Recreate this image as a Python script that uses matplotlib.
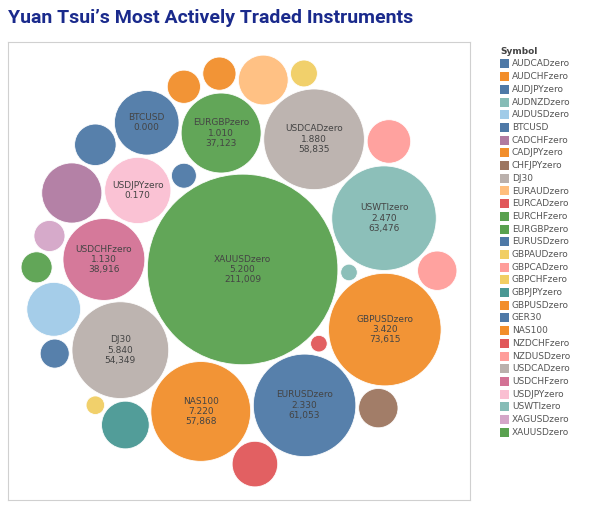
import numpy as np
import matplotlib
matplotlib.use("Agg")
import matplotlib.pyplot as plt
from matplotlib.patches import Circle, Rectangle

symbols = ["AUDCADzero","AUDCHFzero","AUDJPYzero","AUDNZDzero","AUDUSDzero","BTCUSD","CADCHFzero",
           "CADJPYzero","CHFJPYzero","DJ30","EURAUDzero","EURCADzero","EURCHFzero","EURGBPzero",
           "EURUSDzero","GBPAUDzero","GBPCADzero","GBPCHFzero","GBPJPYzero","GBPUSDzero","GER30",
           "NAS100","NZDCHFzero","NZDUSDzero","USDCADzero","USDCHFzero","USDJPYzero","USWTIzero",
           "XAGUSDzero","XAUUSDzero"]
volume = [10000, 6400, 4900, 1600, 16850, 24242, 21000,
          6400, 9000, 54349, 14400, 12070, 5600, 37123,
          61053, 2000, 11000, 4200, 13200, 73615, 3600,
          57868, 1600, 9000, 58835, 38916, 25500, 63476,
          5600, 211009]
profit = {"BTCUSD":"0.000","DJ30":"5.840","EURGBPzero":"1.010","EURUSDzero":"2.330",
          "GBPUSDzero":"3.420","NAS100":"7.220","USDCADzero":"1.880","USDCHFzero":"1.130",
          "USDJPYzero":"0.170","USWTIzero":"2.470","XAUUSDzero":"5.200"}
colors = ["#4e79a7","#f28e2b","#4e79a7","#86bcb6","#a0cbe8","#4e79a7","#b07aa1",
          "#f28e2b","#9d7660","#bab0ac","#ffbe7d","#e15759","#59a14f","#59a14f",
          "#4e79a7","#f1ce63","#ff9d9a","#f1ce63","#499894","#f28e2b","#4e79a7",
          "#f28e2b","#e15759","#ff9d9a","#bab0ac","#d37295","#fabfd2","#86bcb6",
          "#d4a6c8","#59a14f"]

# --- greedy circle packing ---
r = np.sqrt(np.array(volume, float))
gap = r.max() * 0.03
order = np.argsort(-r)
pos = {}
placed = []
def ok(p, ri):
    for j in placed:
        if np.hypot(*(p - pos[j])) < ri + r[j] + gap - 1e-6:
            return False
    return True
for k, i in enumerate(order):
    if k == 0:
        pos[i] = np.array([0.0, 0.0])
    elif k == 1:
        j = placed[0]
        pos[i] = (r[j] + r[i] + gap) * np.array([np.cos(-0.4), np.sin(-0.4)])
    else:
        best, bd = None, np.inf
        for a in range(len(placed)):
            for b in range(a + 1, len(placed)):
                A, B = placed[a], placed[b]
                pa, pb = pos[A], pos[B]
                ra, rb = r[A] + r[i] + gap, r[B] + r[i] + gap
                d = np.hypot(*(pb - pa))
                if d > ra + rb or d < abs(ra - rb) or d == 0:
                    continue
                x = (ra**2 - rb**2 + d**2) / (2 * d)
                h = np.sqrt(max(ra**2 - x**2, 0))
                u = (pb - pa) / d
                v = np.array([-u[1], u[0]])
                for s in (1, -1):
                    p = pa + u * x + s * h * v
                    dist = np.hypot(*p)
                    if dist < bd and ok(p, r[i]):
                        best, bd = p, dist
        pos[i] = best
    placed.append(i)

fig = plt.figure(figsize=(6, 5.11), dpi=100)
ax = fig.add_axes([8/600, 6/511, 462/600, 468/511])
ax.set_aspect("equal")
for i in range(len(symbols)):
    c = Circle(pos[i], r[i], facecolor=colors[i], edgecolor="white", lw=0.6, alpha=0.95)
    ax.add_patch(c)
    if symbols[i] in profit:
        lines = [symbols[i], profit[symbols[i]]]
        if r[i] > 165:
            lines.append(f"{volume[i]:,}")
        ax.text(pos[i][0], pos[i][1], "\n".join(lines), ha="center", va="center",
                fontsize=6.5, color="#444444", linespacing=1.2)
xs = np.array([pos[i][0] for i in pos]); ys = np.array([pos[i][1] for i in pos])
rr = np.array([r[i] for i in pos])
x0, x1 = (xs - rr).min(), (xs + rr).max()
y0, y1 = (ys - rr).min(), (ys + rr).max()
m = 0.03 * (x1 - x0)
ax.set_xlim(x0 - m, x1 + m); ax.set_ylim(y0 - m, y1 + m)
ax.set_xticks([]); ax.set_yticks([])
for s in ax.spines.values():
    s.set_color("#d0d0d0")

fig.text(8/600, 1 - 18/511, "Yuan Tsui’s Most Actively Traded Instruments", fontsize=14,
         fontweight="bold", color="#1a2a8c", va="center", ha="left", family="Roboto")
fig.text(500/600, 1 - 51/511, "Symbol", fontsize=6.5, fontweight="bold", color="#444444", va="center")
for k, (s, c) in enumerate(zip(symbols, colors)):
    y = 1 - (64 + 12.7 * k) / 511
    fig.patches.append(Rectangle((500/600, y - 4.5/511), 9/600, 9/511, facecolor=c,
                                 transform=fig.transFigure, figure=fig))
    fig.text(512/600, y, s, fontsize=6.5, color="#555555", va="center")

fig.savefig("out.png", dpi=100)
